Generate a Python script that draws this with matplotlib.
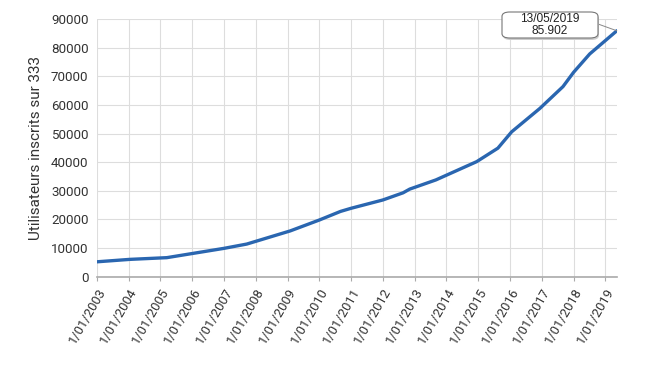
import matplotlib.pyplot as plt
import pandas as pd
from matplotlib.patches import FancyBboxPatch

# data
dates = ['2003-01-01', '2004-01-15', '2005-03-15', '2007-01-01', '2007-09-20',
         '2009-02-01', '2010-01-01', '2010-09-01', '2011-01-01', '2012-01-01',
         '2012-08-20', '2012-11-05', '2013-09-01', '2014-12-15', '2015-08-15',
         '2016-01-20', '2016-12-10', '2017-09-01', '2018-01-01', '2018-07-05',
         '2019-05-13']
users = [5200, 6050, 6650, 9900, 11400,
         16000, 19800, 22800, 23900, 26800,
         29300, 30600, 33800, 40200, 44900,
         50600, 58800, 66400, 71400, 77800,
         85902]
tick_years = list(range(2003, 2020))
tick_labels = ['1/01/%d' % y for y in tick_years]

x = pd.to_datetime(dates)

plt.rcParams['font.family'] = ['Roboto', 'DejaVu Sans']
fig = plt.figure(figsize=(6.5, 3.66), dpi=100)
ax = fig.add_axes([0.149, 0.244, 0.8, 0.704])

ax.plot(x, users, color='#2a66b0', linewidth=2.4, solid_capstyle='round', solid_joinstyle='round')

ax.set_xlim(x[0], x[-1])
ax.set_ylim(0, 90000)
ax.set_yticks(range(0, 90001, 10000))
ax.set_xticks(pd.to_datetime(['%d-01-01' % y for y in tick_years]))
ax.set_xticklabels(tick_labels, rotation=60, ha='right', rotation_mode='anchor')

ax.grid(True, color='#dddddd', linewidth=0.8)
ax.set_axisbelow(True)
for s in ['top', 'right', 'left']:
    ax.spines[s].set_visible(False)
ax.spines['bottom'].set_color('#aaaaaa')
ax.spines['bottom'].set_linewidth(1.2)
ax.tick_params(axis='y', length=0, labelsize=9.6, labelcolor='#333333', pad=6)
ax.tick_params(axis='x', length=3, color='#aaaaaa', labelsize=9.4, labelcolor='#333333')

ax.set_ylabel('Utilisateurs inscrits sur 333', fontsize=11, color='#333333', labelpad=6)

# tooltip of the last point (box drawn in figure pixels)
shadow = FancyBboxPatch((503 / 650, 326 / 366), 96 / 650, 26 / 366,
                        boxstyle='round,pad=0,rounding_size=0.012', transform=fig.transFigure,
                        fc='#cccccc', ec='none', zorder=4)
box = FancyBboxPatch((502 / 650, 328 / 366), 96 / 650, 26 / 366,
                     boxstyle='round,pad=0,rounding_size=0.012', transform=fig.transFigure,
                     fc='white', ec='#777777', lw=0.8, zorder=5)
fig.patches.extend([shadow, box])
ax.annotate('', xy=(x[-1], users[-1]), xycoords='data',
            xytext=(598, 342), textcoords='figure pixels',
            arrowprops=dict(arrowstyle='-', color='#888888', lw=0.7, shrinkA=0, shrinkB=0),
            annotation_clip=False)
fig.text(550 / 650, 341 / 366, '13/05/2019\n85.902', ha='center', va='center',
         fontsize=8.6, family='Liberation Sans', linespacing=0.95, color='#222222', zorder=6)

plt.savefig('out.png', dpi=100)
